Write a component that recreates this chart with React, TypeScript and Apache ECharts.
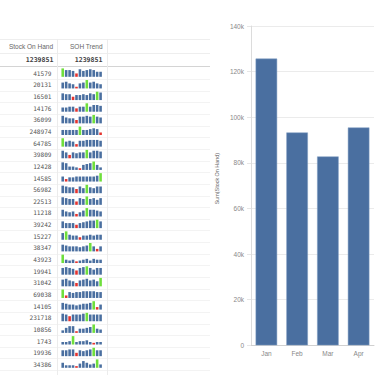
import React, { useEffect, useRef } from "react";
import * as echarts from "echarts";

// Bar chart data
const months = ["Jan", "Feb", "Mar", "Apr"];
const monthStock = [125700, 93300, 82800, 95500];

// Table data
const headers = ["Stock On Hand", "SOH Trend"];
const totalStock = 1239851;
const stockOnHand = [
  41579, 20131, 16501, 14176, 36099, 248974, 64785, 39809, 12428, 14585, 56982, 22513, 11218,
  39242, 15227, 38347, 43923, 19941, 31042, 69038, 14105, 231718, 10856, 1743, 19936, 34386,
];
const trendSlots = ["1", "2", "3", "4", "5", "6", "7", "8", "9", "10", "11", "12"];
const sohTrend = [
  [10, 8, 8, 7, 4, 9, 7, 8, 9, 8, 6, 6],
  [7, 8, 6, 5, 2, 6, 7, 10, 7, 8, 6, 5],
  [8, 7, 7, 4, 6, 6, 7, 6, 8, 7, 10, 9],
  [5, 5, 6, 6, 4, 6, 6, 10, 6, 8, 8, 7],
  [9, 7, 6, 6, 4, 8, 8, 9, 8, 10, 8, 7],
  [6, 6, 6, 6, 6, 10, 6, 6, 7, 8, 7, 3],
  [10, 6, 7, 6, 3, 7, 7, 8, 8, 8, 8, 7],
  [9, 7, 4, 7, 6, 7, 7, 10, 7, 9, 9, 8],
  [9, 8, 4, 4, 3, 2, 6, 7, 8, 10, 6, 3],
  [6, 3, 5, 5, 6, 6, 6, 6, 6, 6, 7, 10],
  [9, 8, 7, 7, 5, 8, 6, 10, 7, 6, 8, 8],
  [9, 8, 7, 7, 4, 8, 7, 10, 7, 8, 6, 8],
  [8, 6, 5, 6, 3, 5, 7, 10, 8, 8, 7, 6],
  [8, 6, 6, 6, 4, 6, 7, 8, 9, 9, 10, 8],
  [8, 10, 6, 5, 5, 3, 5, 5, 6, 5, 6, 6],
  [8, 7, 6, 6, 6, 5, 6, 7, 10, 6, 3, 6],
  [10, 4, 3, 4, 2, 3, 4, 5, 3, 5, 4, 4],
  [8, 9, 8, 7, 5, 8, 9, 10, 8, 6, 8, 8],
  [8, 9, 7, 6, 4, 7, 8, 9, 7, 8, 6, 10],
  [10, 3, 7, 6, 7, 7, 8, 8, 8, 8, 7, 7],
  [8, 7, 6, 6, 5, 6, 7, 7, 8, 10, 3, 6],
  [9, 8, 6, 8, 8, 8, 9, 10, 8, 8, 8, 8],
  [3, 6, 8, 8, 2, 5, 5, 6, 7, 10, 5, 4],
  [3, 3, 4, 10, 3, 4, 4, 5, 3, 2, 3, 3],
  [7, 7, 8, 8, 4, 7, 6, 7, 8, 10, 7, 7],
  [6, 3, 3, 3, 2, 5, 8, 6, 4, 5, 10, 4],
];

const BLUE = "#4a6fa0";
const GREEN = "#6fdf3c";
const RED = "#e5332e";
const LINE = "#ececec";
const TEXT_FONT = "Liberation Sans, Arial, sans-serif";
const NUM_FONT = "DejaVu Sans Mono, monospace";

const ROW0 = 73.3;
const ROW_H = 11.64;
const TABLE_R = 210;

export default function App() {
  const ref = useRef<HTMLDivElement>(null);

  useEffect(() => {
    if (!ref.current) return;
    const chart = echarts.init(ref.current, undefined, { renderer: "svg" });

    const grids: any[] = [
      { left: 251, right: 1, top: 26, bottom: 29.7, containLabel: false },
    ];
    const xAxes: any[] = [
      {
        gridIndex: 0,
        type: "category",
        data: months,
        axisLine: { show: true, lineStyle: { color: "#d0d0d0" } },
        axisTick: { show: false },
        axisLabel: { color: "#888", fontSize: 6.5, margin: 5, fontFamily: TEXT_FONT },
      },
    ];
    const yAxes: any[] = [
      {
        gridIndex: 0,
        type: "value",
        min: 0,
        max: 140000,
        interval: 20000,
        name: "Sum(Stock On Hand)",
        nameLocation: "middle",
        nameGap: 32,
        nameTextStyle: { color: "#666", fontSize: 5.4, fontFamily: TEXT_FONT, padding: [0, 0, 0, 14] },
        axisLine: { show: true, lineStyle: { color: "#dcdcdc" } },
        axisTick: { show: true, length: 4, lineStyle: { color: "#e6e6e6" } },
        splitLine: { show: true, lineStyle: { color: "#ebebeb" } },
        axisLabel: {
          color: "#888",
          fontSize: 6.5,
          margin: 7,
          fontFamily: TEXT_FONT,
          formatter: (v: number) => (v === 0 ? "0" : v / 1000 + "k"),
        },
      },
    ];
    const series: any[] = [
      {
        type: "bar",
        xAxisIndex: 0,
        yAxisIndex: 0,
        data: monthStock,
        barCategoryGap: "30%",
        itemStyle: { color: BLUE, borderColor: "#7f9cc2", borderWidth: 0.5 },
      },
    ];

    sohTrend.forEach((row, i) => {
      const cy = ROW0 + i * ROW_H;
      const gi = i + 1;
      const mx = Math.max(...row);
      const mn = Math.min(...row);
      grids.push({ left: 61, top: cy - 4.9, width: 41.3, height: 8.4 });
      xAxes.push({ gridIndex: gi, type: "category", data: trendSlots, show: false });
      yAxes.push({ gridIndex: gi, type: "value", min: 0, max: mx, show: false });
      series.push({
        type: "bar",
        xAxisIndex: gi,
        yAxisIndex: gi,
        barCategoryGap: "25%",
        data: row.map((v) => ({
          value: v,
          itemStyle: { color: v === mx ? GREEN : v === mn ? RED : BLUE },
        })),
      });
    });

    const graphic: any[] = [];
    const hline = (y: number, color: string) =>
      graphic.push({
        type: "line",
        shape: { x1: 0, y1: y, x2: TABLE_R, y2: y },
        style: { stroke: color, lineWidth: 1 },
        silent: true,
        z: -1,
      });
    const vline = (x: number) =>
      graphic.push({
        type: "line",
        shape: { x1: x, y1: 39, x2: x, y2: 375 },
        style: { stroke: LINE, lineWidth: 1 },
        silent: true,
        z: -1,
      });
    hline(39.5, "#eeeeee");
    hline(53.5, "#eeeeee");
    hline(66.5, "#d4d4d4");
    stockOnHand.forEach((_, i) => {
      hline(Math.round(ROW0 + i * ROW_H + ROW_H / 2) + 0.5, "#f3f3f3");
    });
    vline(57.5);
    vline(107.5);

    const text = (
      x: number,
      y: number,
      str: string,
      opts: { size: number; color: string; family: string; weight?: string }
    ) =>
      graphic.push({
        type: "text",
        x,
        y,
        silent: true,
        style: {
          text: str,
          fill: opts.color,
          fontSize: opts.size,
          fontFamily: opts.family,
          fontWeight: opts.weight || "normal",
          align: "right",
          verticalAlign: "middle",
          textAlign: "right",
          textVerticalAlign: "middle",
        },
      });

    text(53, 46.7, headers[0], { size: 6.5, color: "#666", family: TEXT_FONT });
    text(102.5, 46.7, headers[1], { size: 6.5, color: "#666", family: TEXT_FONT });
    text(53.5, 59.8, String(totalStock), { size: 6.6, color: "#404040", family: NUM_FONT, weight: "bold" });
    text(102.5, 59.8, String(totalStock), { size: 6.6, color: "#404040", family: NUM_FONT, weight: "bold" });
    stockOnHand.forEach((v, i) => {
      text(51.5, ROW0 + i * ROW_H, String(v), { size: 6.1, color: "#555", family: NUM_FONT });
    });

    chart.setOption({
      animation: false,
      backgroundColor: "#ffffff",
      grid: grids,
      xAxis: xAxes,
      yAxis: yAxes,
      series,
      graphic,
    });

    return () => chart.dispose();
  }, []);

  return (
    <div
      ref={ref}
      style={{ position: "absolute", left: 0, top: 0, width: 375, height: 375 }}
    />
  );
}
